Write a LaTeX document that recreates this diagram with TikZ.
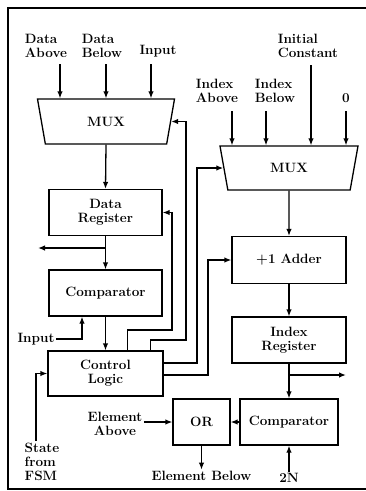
\documentclass[tikz,border=0pt]{standalone}
\usepackage{fontspec}
\usepackage{tikz}
\usetikzlibrary{shapes.geometric,arrows.meta}

\begin{document}
\begin{tikzpicture}[x=1pt, y=-1pt, line width=1.3pt, >={Latex[length=7pt,width=5.5pt]},
  every node/.style={font=\fontsize{13.5}{14}\selectfont\bfseries},
  blk/.style={draw, align=center, minimum width=113pt, minimum height=46pt},
  mux/.style={draw, trapezium, shape border rotate=180, trapezium angle=64,
    trapezium stretches body, minimum width=137pt, minimum height=45pt},
  lbl/.style={align=left, inner sep=1pt}]
  \useasboundingbox (0,0) rectangle (366,491);
  \draw (366,8) -- (8,8) -- (8,489) -- (366,489);

  % data side
  \node[mux] (mux1) at (106,121.5) {MUX};
  \node[blk] (dreg) at (105.5,212.5) {Data\\Register};
  \node[blk] (cmp1) at (105.5,293) {Comparator};
  \node[blk, minimum width=115pt, minimum height=45pt] (ctrl) at (105.5,373.5) {Control\\Logic};

  % index side
  \node[mux, minimum width=138pt, minimum height=44pt] (mux2) at (289,168) {MUX};
  \node[blk, minimum width=114pt, minimum height=47pt] (add) at (289,260) {+1 Adder};
  \node[blk, minimum width=114pt] (ireg) at (289,340) {Index\\Register};
  \node[blk, minimum width=98pt] (cmp2) at (289,422) {Comparator};
  \node[blk, minimum width=57pt] (orgate) at (201.5,422) {OR};

  % labels
  \node[lbl, anchor=south] (dab) at (46,59) {Data\\Above};
  \node[lbl, anchor=south] (dbe) at (102,59) {Data\\Below};
  \node[lbl, anchor=south] (din) at (158,59) {Input};
  \node[lbl, anchor=south] (iab) at (217,104) {Index\\Above};
  \node[lbl, anchor=south] (ibe) at (275,104) {Index\\Below};
  \node[lbl, anchor=south] (ini) at (308,59) {Initial\\Constant};
  \node[lbl, anchor=south] (zero) at (346,104) {0};
  \node[lbl] (cin) at (36,339) {Input};
  \node[lbl, anchor=north] (fsm) at (42,441) {State\\from\\FSM};
  \node[lbl, align=center] (eab) at (115,424) {Element\\Above};
  \node[lbl] (ebe) at (201.5,476) {Element Below};
  \node[lbl] (twon) at (289,478) {2N};

  \coordinate (a1) at (60,64);
  \coordinate (a2) at (106,64);
  \coordinate (a3) at (151,64);
  \coordinate (b1) at (232,111);
  \coordinate (b2) at (266,111);
  \coordinate (b3) at (311,65);
  \coordinate (b4) at (346,111);
  \path[->]
  (a1) edge (a1 |- mux1.north)
  (a2) edge (a2 |- mux1.north)
  (a3) edge (a3 |- mux1.north)
  (b1) edge (b1 |- mux2.north)
  (b2) edge (b2 |- mux2.north)
  (b3) edge (b3 |- mux2.north)
  (b4) edge (b4 |- mux2.north)
  (mux1.south) edge (dreg.north)
  (dreg.south) edge (cmp1.north)
  (cmp1.south) edge (ctrl.north)
  (mux2.south) edge (add.north)
  (add.south) edge (ireg.north)
  (ireg.south) edge (cmp2.north)
  (cmp2.west) edge (orgate.east)
  (orgate.south) edge (ebe.north)
  (twon.north) edge (cmp2.south)
  (eab.east |- orgate.west) edge (orgate.west)
  ;

  % outputs
  \coordinate (dout) at (38,248);
  \coordinate (iout) at (346,375);
  \draw[->] (dreg.south |- dout) -- (dout);
  \draw[->] (ireg.south |- iout) -- (iout);
  \draw[->] (cin.east) -| ([xshift=-23.5pt]cmp1.south);
  \draw[->] ([xshift=-6pt]fsm.north) |- (ctrl.west);

  % control lines
  \coordinate (ka) at (172,330);
  \coordinate (kb) at (186,340);
  \coordinate (kc) at (197,363);
  \coordinate (kd) at (208,375);
  \draw[->] ([xshift=22pt]ctrl.north) |- (ka) |- (dreg.east);
  \draw[->] ([xshift=45pt]ctrl.north) |- (kb) |- (mux1.east);
  \draw[->] (ctrl.east |- kc) -- (kc) |- (mux2.west);
  \draw[->] (ctrl.east |- kd) -- (kd) |- (add.west);
\end{tikzpicture}
\end{document}
